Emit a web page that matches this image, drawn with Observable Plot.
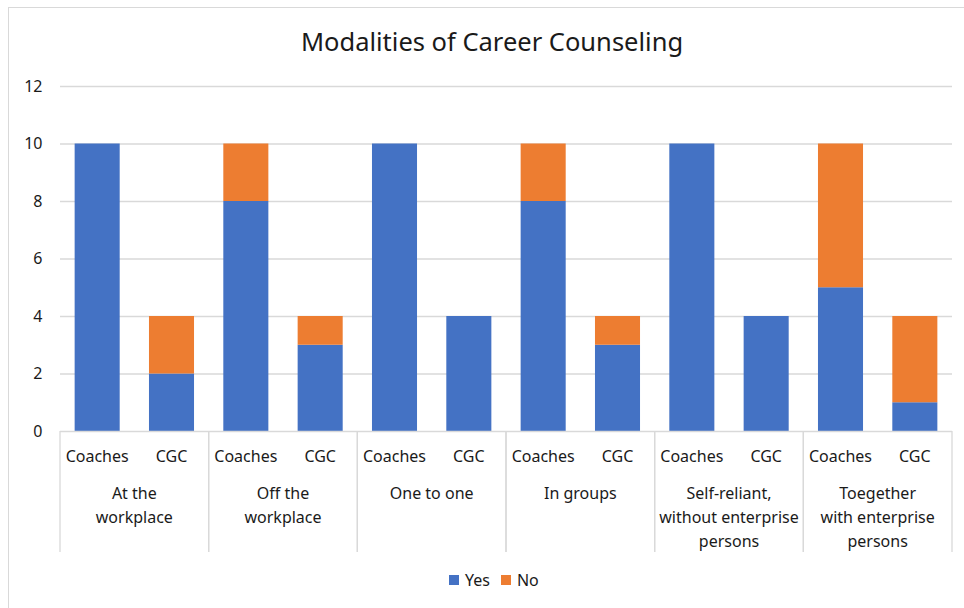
<!DOCTYPE html>
<html><head><meta charset="utf-8">
<script src="https://cdn.jsdelivr.net/npm/d3@7"></script>
<script src="https://cdn.jsdelivr.net/npm/@observablehq/plot@0.6"></script>
<style>
body{margin:0;background:#fff;font-family:"Noto Sans",sans-serif;}
#wrap{position:relative;width:964px;height:608px;overflow:hidden;background:#fff;}
#frame{position:absolute;left:8px;top:7px;width:980px;height:620px;border-left:1px solid #d9d9d9;border-top:1px solid #d9d9d9;}
#title{position:absolute;top:25px;left:10px;width:964px;text-align:center;font-size:25.5px;line-height:32px;color:#1a1a1a;}
#chart{position:absolute;left:0;top:70px;}
#legend{position:absolute;left:449px;top:570px;display:flex;align-items:center;font-size:16px;color:#1a1a1a;line-height:20px;}
#legend .sw{width:10px;height:10px;display:inline-block;margin-right:6px;}
#legend .item{display:flex;align-items:center;margin-right:11px;}
</style></head>
<body>
<div id="wrap">
  <div id="frame"></div>
  <div id="title">Modalities of Career Counseling</div>
  <div id="chart"></div>
  <div id="legend"></div>
</div>
<script>
const groups = ["At the\nworkplace", "Off the\nworkplace", "One to one", "In groups", "Self-reliant,\nwithout enterprise\npersons", "Toegether\nwith enterprise\npersons"];
const subs = ["Coaches", "CGC"];
const answers = ["Yes", "No"];
const colors = ["#4472C4", "#ED7D31"];
const yesCoaches = [10, 8, 10, 8, 10, 5];
const noCoaches  = [0, 2, 0, 2, 0, 5];
const yesCGC     = [2, 3, 4, 3, 4, 1];
const noCGC      = [2, 1, 0, 1, 0, 3];
const yTicks = [0, 2, 4, 6, 8, 10, 12];

const keys = [];
groups.forEach((g, gi) => subs.forEach(s => keys.push(gi + "|" + s)));
const data = [];
groups.forEach((g, gi) => {
  data.push({key: gi + "|Coaches", answer: "Yes", value: yesCoaches[gi]});
  data.push({key: gi + "|Coaches", answer: "No", value: noCoaches[gi]});
  data.push({key: gi + "|CGC", answer: "Yes", value: yesCGC[gi]});
  data.push({key: gi + "|CGC", answer: "No", value: noCGC[gi]});
});

const W = 964, H = 490, mT = 16, mB = 129;
const plot = Plot.plot({
  width: W, height: H,
  marginLeft: 60, marginRight: 12, marginTop: mT, marginBottom: mB,
  style: {fontFamily: "'Noto Sans', sans-serif", fontSize: "16px", color: "#1a1a1a", background: "transparent", overflow: "visible"},
  x: {domain: keys, paddingInner: 0.394, paddingOuter: 0.197, round: false, axis: null},
  y: {domain: [0, 12], ticks: yTicks, label: null, tickSize: 0, tickPadding: 18},
  color: {domain: answers, range: colors},
  marks: [
    Plot.gridY(yTicks.filter(d => d > 0), {stroke: "#d9d9d9", strokeOpacity: 1, strokeWidth: 1.3}),
    Plot.axisY({ticks: yTicks, tickSize: 0, tickPadding: 18, label: null, fontSize: 16}),
    Plot.barY(data, Plot.stackY({x: "key", y: "value", fill: "answer", order: answers})),
    Plot.ruleY([0], {stroke: "#d9d9d9", strokeWidth: 1.3})
  ]
});
document.getElementById("chart").appendChild(plot);

// Two-level category axis drawn from the plot's own x scale
const xs = plot.scale("x");
const bw = xs.bandwidth, step = xs.step;
const gap = (step - bw) / 2;
const y0 = H - mB;
const svg = d3.select(plot);
const ax = svg.append("g").attr("font-family", "'Noto Sans', sans-serif").attr("fill", "#1a1a1a");
keys.forEach((k, i) => {
  ax.append("text")
    .attr("x", xs.apply(k) + bw / 2).attr("y", y0 + 25)
    .attr("text-anchor", "middle").attr("dominant-baseline", "central")
    .attr("font-size", 16).text(subs[i % 2]);
});
groups.forEach((g, gi) => {
  const left = xs.apply(gi + "|Coaches") - gap;
  const right = xs.apply(gi + "|CGC") + bw + gap;
  const cx = (left + right) / 2;
  g.split("\n").forEach((line, li) => {
    ax.append("text")
      .attr("x", cx).attr("y", y0 + 62 + li * 24)
      .attr("text-anchor", "middle").attr("dominant-baseline", "central")
      .attr("font-size", 16).text(line);
  });
  [left, right].forEach(x => {
    ax.append("line").attr("x1", x).attr("x2", x).attr("y1", y0).attr("y2", y0 + 121)
      .attr("stroke", "#d9d9d9").attr("stroke-width", 1.3);
  });
});

const legend = document.getElementById("legend");
answers.forEach((a, i) => {
  const item = document.createElement("span");
  item.className = "item";
  item.innerHTML = `<span class="sw" style="background:${colors[i]}"></span>${a}`;
  legend.appendChild(item);
});
</script>
</body></html>
